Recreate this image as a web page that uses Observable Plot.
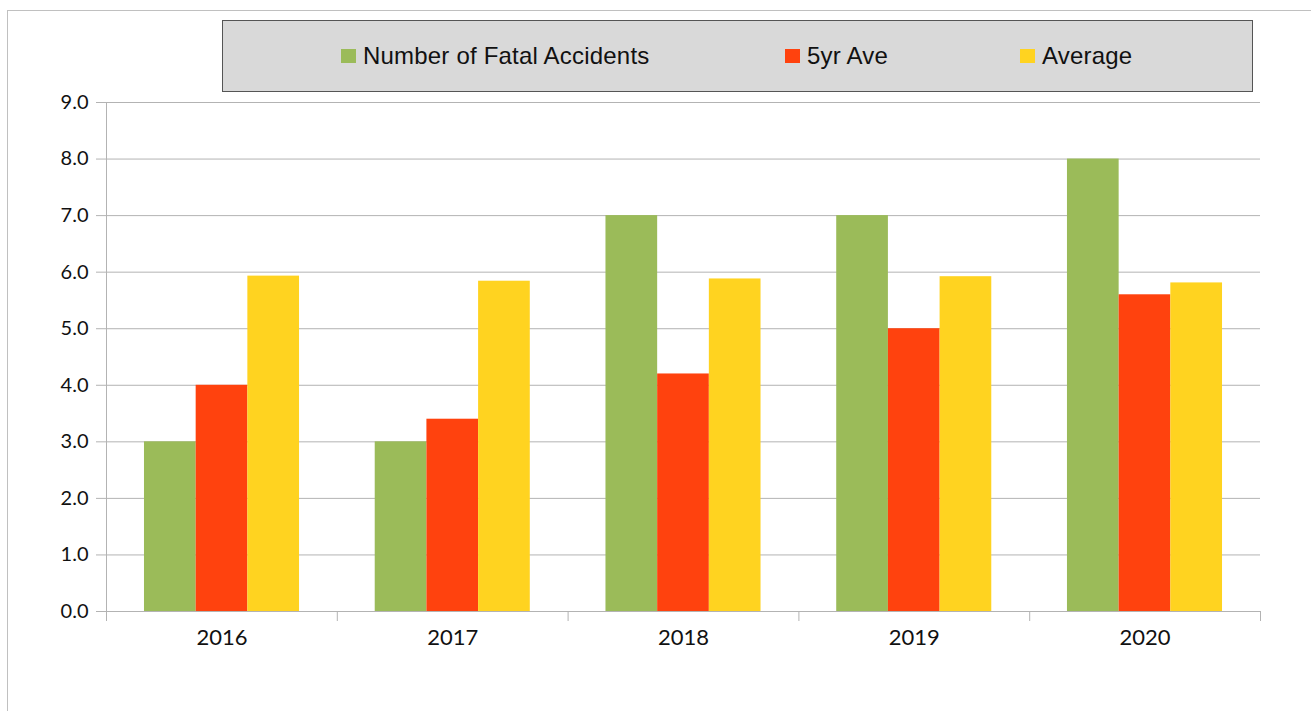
<!DOCTYPE html>
<html>
<head>
<meta charset="utf-8">
<script src="https://cdn.jsdelivr.net/npm/d3@7"></script>
<script src="https://cdn.jsdelivr.net/npm/@observablehq/plot@0.6"></script>
<style>
  html, body { margin: 0; padding: 0; background: #fff; }
  #wrap { position: relative; width: 1311px; height: 711px; overflow: hidden; }
  #frame { position: absolute; left: 7px; top: 10px; width: 1400px; height: 800px;
           border-top: 1px solid #c0c0c0; border-left: 1px solid #c0c0c0; box-sizing: border-box; }
  #legend { position: absolute; left: 222px; top: 20px; width: 1031px; height: 72px; box-sizing: border-box;
            background: #d9d9d9; border: 1px solid #555;
            font-family: "Liberation Sans", Arial, sans-serif; font-size: 24px; color: #111; letter-spacing: 0.2px; }
  .item { position: absolute; top: 0; height: 70px; display: flex; align-items: center; }
  .sw { width: 15px; height: 14px; margin-right: 7px; }
  .layer { position: absolute; left: 0; top: 0; }
</style>
</head>
<body>
<div id="wrap">
  <div id="frame"></div>
  <div id="bg" class="layer"></div>
  <div id="fg" class="layer"></div>
  <div id="legend"></div>
</div>
<script>
const years = ["2016", "2017", "2018", "2019", "2020"];
const series = ["Number of Fatal Accidents", "5yr Ave", "Average"];
const colors = ["#9bbb59", "#ff420e", "#ffd320"];
const fatal = [3, 3, 7, 7, 8];
const fiveYr = [4.0, 3.4, 4.2, 5.0, 5.6];
const average = [5.93, 5.84, 5.88, 5.92, 5.81];
const yTicks = [0, 1, 2, 3, 4, 5, 6, 7, 8, 9];

const values = [fatal, fiveYr, average];
const data = [];
years.forEach((yr, i) => series.forEach((s, j) => data.push({year: yr, series: s, value: values[j][i]})));

const W = 1311, H = 711;
const M = {marginLeft: 106, marginRight: 51, marginTop: 102, marginBottom: 100};

// Background: gridlines, axes, category boundaries
const bounds = d3.range(years.length + 1);
const centers = years.map((d, i) => i + 0.5);
const bg = Plot.plot({
  width: W, height: H, ...M,
  style: {background: "transparent", fontFamily: "Lato, sans-serif", color: "#111"},
  x: {type: "linear", domain: [0, years.length], axis: null},
  y: {domain: [0, 9], axis: null},
  marks: [
    Plot.ruleY(yTicks, {stroke: "#b3b3b3", strokeWidth: 1}),
    Plot.axisY(yTicks, {tickSize: 10, tickPadding: 8, tickFormat: d => d.toFixed(1), fontSize: 20, stroke: "#b3b3b3", strokeOpacity: 1, fill: "#111"}),
    Plot.ruleX([0], {y1: 0, y2: 9, stroke: "#b3b3b3"}),
    Plot.axisX(bounds, {tickSize: 10, tickFormat: () => "", stroke: "#b3b3b3", strokeOpacity: 1}),
    Plot.axisX(centers, {tickSize: 0, tickPadding: 18, tickFormat: (d, i) => years[i], fontSize: 22, fill: "#111"})
  ]
});
document.getElementById("bg").append(bg);

// Foreground: grouped bars
const fg = Plot.plot({
  width: W, height: H, ...M,
  style: {background: "transparent"},
  fx: {domain: years, paddingInner: 0.328, paddingOuter: 0.1646, round: false, axis: null, label: null},
  x: {domain: series, padding: 0, round: false, axis: null},
  y: {domain: [0, 9], axis: null},
  color: {domain: series, range: colors},
  marks: [
    Plot.barY(data, {fx: "year", x: "series", y: "value", fill: "series"})
  ]
});
document.getElementById("fg").append(fg);

// Legend
const leg = document.getElementById("legend");
const pos = [118, 562, 797];
series.forEach((s, j) => {
  const it = document.createElement("div");
  it.className = "item";
  it.style.left = pos[j] + "px";
  const sw = document.createElement("span");
  sw.className = "sw";
  sw.style.background = colors[j];
  const t = document.createElement("span");
  t.textContent = s;
  it.append(sw, t);
  leg.append(it);
});
</script>
</body>
</html>
